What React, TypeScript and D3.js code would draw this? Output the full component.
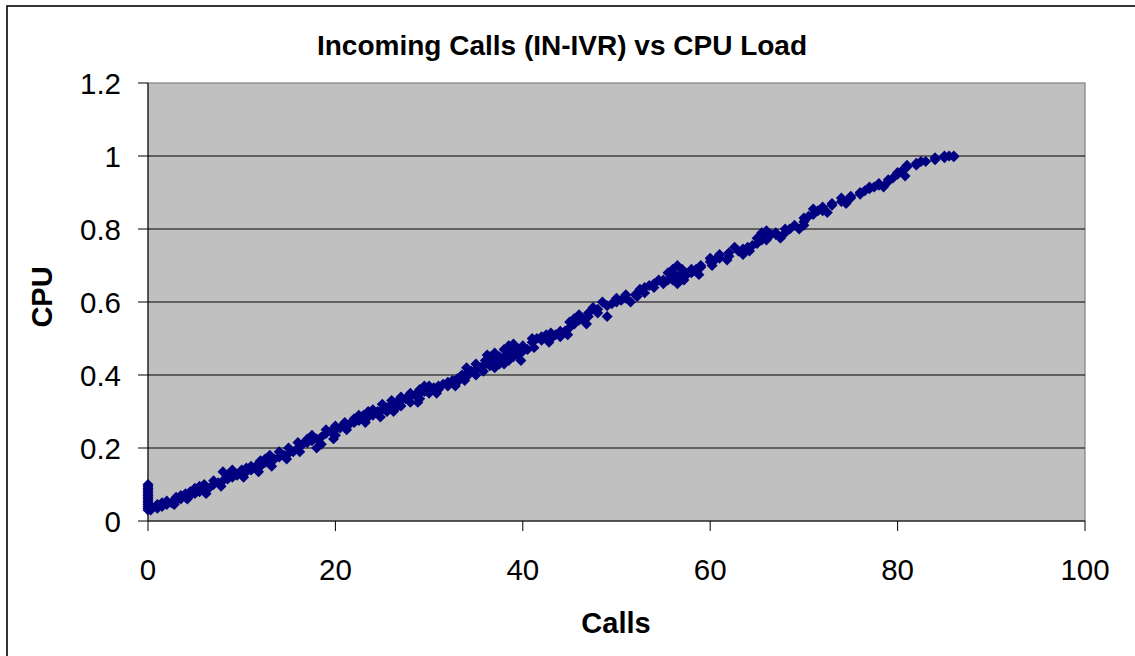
import React from "react";
import * as d3 from "d3";

const chartTitle = "Incoming Calls (IN-IVR) vs CPU Load";
const xAxisTitle = "Calls";
const yAxisTitle = "CPU";
const xTicks = [0, 20, 40, 60, 80, 100];
const yTicks = [0, 0.2, 0.4, 0.6, 0.8, 1, 1.2];

// [calls, cpu]
const scatterPoints: [number, number][] = [
  [0, 0.03], [0, 0.035], [0, 0.04], [0, 0.045], [0, 0.05], [0, 0.055], [0, 0.06], [0, 0.065],
  [0, 0.07], [0, 0.075], [0, 0.08], [0, 0.085], [0, 0.09], [0, 0.095], [0, 0.1],
  [0.3, 0.03], [0.3, 0.04], [1, 0.035], [1, 0.045], [1.5, 0.04], [1.5, 0.05],
  [2, 0.045], [2, 0.055], [2.5, 0.05], [3, 0.055], [3, 0.065], [3.5, 0.06], [3.5, 0.07],
  [4, 0.065], [4, 0.075], [4.5, 0.07], [4.5, 0.08], [5, 0.075], [5, 0.09], [5.5, 0.08], [5.5, 0.095],
  [6, 0.085], [6, 0.1], [6.5, 0.09], [7, 0.1], [7, 0.11], [7.5, 0.105], [8, 0.11], [8, 0.135],
  [8.5, 0.115], [8.5, 0.125], [9, 0.12], [9, 0.13], [9, 0.14], [9.5, 0.125], [10, 0.13], [10, 0.14],
  [10.5, 0.135], [10.5, 0.145], [11, 0.14], [11, 0.15], [11.5, 0.15], [12, 0.15], [12, 0.165],
  [12.5, 0.16], [12.5, 0.17], [13, 0.165], [13, 0.18], [13.5, 0.17], [14, 0.175], [14, 0.19],
  [14.5, 0.18], [15, 0.185], [15, 0.2], [15.5, 0.19], [16, 0.2], [16, 0.215], [16.5, 0.21],
  [17, 0.215], [17, 0.225], [17.5, 0.22], [17.5, 0.235], [18, 0.225], [18, 0.2], [18.5, 0.23], [18.5, 0.21],
  [19, 0.24], [19, 0.25], [19.5, 0.245], [20, 0.25], [20, 0.26], [20, 0.235], [20.5, 0.255],
  [21, 0.26], [21, 0.27], [21.5, 0.265], [22, 0.27], [22, 0.28], [22.5, 0.275], [22.5, 0.29],
  [23, 0.28], [23, 0.29], [23.5, 0.3], [23.5, 0.285], [24, 0.29], [24, 0.305], [24.5, 0.3],
  [25, 0.305], [25, 0.32], [25.5, 0.31], [25.5, 0.3], [26, 0.32], [26, 0.33], [26.5, 0.325], [26.5, 0.31],
  [27, 0.33], [27, 0.34], [27, 0.315], [27.5, 0.335], [28, 0.34], [28, 0.35], [28, 0.325], [28.5, 0.345],
  [29, 0.35], [29, 0.36], [29, 0.335], [29.5, 0.355], [29.5, 0.37], [30, 0.36], [30, 0.37], [30, 0.35],
  [30.5, 0.365], [31, 0.37], [31, 0.36], [31.5, 0.375], [32, 0.38], [32, 0.37], [32.5, 0.385],
  [33, 0.39], [33, 0.38], [33.5, 0.4], [34, 0.405], [34, 0.395], [34, 0.42], [34.5, 0.41],
  [35, 0.415], [35, 0.43], [35, 0.4], [35.5, 0.42], [36, 0.43], [36, 0.44], [36.5, 0.425], [36.5, 0.45],
  [37, 0.44], [37, 0.46], [37, 0.42], [37.5, 0.45], [37.5, 0.43], [38, 0.45], [38, 0.47], [38, 0.43], [38, 0.44],
  [38.5, 0.46], [38.5, 0.48], [38.5, 0.44], [39, 0.46], [39, 0.47], [39, 0.45], [39, 0.485],
  [39.5, 0.47], [39.5, 0.455], [40, 0.465], [40, 0.48], [40.5, 0.47], [41, 0.49], [41, 0.5], [41.5, 0.5],
  [42, 0.505], [42, 0.495], [42.5, 0.51], [43, 0.5], [43, 0.515], [43.5, 0.51], [44, 0.52], [44, 0.505],
  [44.5, 0.52], [45, 0.53], [45, 0.545], [45.5, 0.54], [45.5, 0.555], [46, 0.55], [46, 0.565], [46.5, 0.55],
  [47, 0.56], [47, 0.57], [48, 0.57], [48, 0.58], [48.5, 0.6], [49, 0.59], [49, 0.56], [49.5, 0.595],
  [50, 0.6], [50, 0.61], [50.5, 0.605], [51, 0.61], [51, 0.62], [52, 0.62], [52.5, 0.635],
  [53, 0.64], [53, 0.625], [53.5, 0.645], [54, 0.64], [54, 0.65], [55, 0.65], [55, 0.66],
  [55.5, 0.66], [55.5, 0.68], [56, 0.66], [56, 0.67], [56, 0.68], [56, 0.69], [56.5, 0.67], [56.5, 0.7], [56.5, 0.65],
  [57, 0.68], [57, 0.69], [57.5, 0.675], [58, 0.68], [58, 0.69], [58.5, 0.69], [59, 0.695], [59, 0.7],
  [60, 0.71], [60, 0.72], [60.5, 0.715], [61, 0.72], [61, 0.73], [62, 0.735], [62, 0.725], [63, 0.74],
  [63.5, 0.73], [63.5, 0.745], [64, 0.75], [64.5, 0.755], [65, 0.76], [65, 0.775], [65.5, 0.77], [65.5, 0.78],
  [65.5, 0.79], [66, 0.78], [66, 0.795], [66, 0.77], [66.5, 0.785], [67, 0.785], [67, 0.79], [68, 0.79], [68, 0.8],
  [68.5, 0.8], [69, 0.81], [70, 0.82], [70, 0.83], [70, 0.81], [70.5, 0.835], [71, 0.84], [71, 0.855],
  [71.5, 0.85], [72, 0.86], [72, 0.85], [73, 0.865], [73, 0.87], [74, 0.875], [74, 0.885], [75, 0.885], [75, 0.89],
  [76, 0.895], [76, 0.9], [76.5, 0.905], [77, 0.91], [77, 0.915], [77.5, 0.915], [78, 0.92], [78, 0.925],
  [79, 0.93], [79, 0.935], [79.5, 0.94], [80, 0.95], [80, 0.955], [80.5, 0.96], [81, 0.97], [81, 0.975],
  [82, 0.98], [82, 0.975], [82.5, 0.985], [83, 0.985], [84, 0.99], [84, 0.995], [85, 0.995], [85, 1.0],
  [85.5, 1.0], [86, 1.0], [86, 0.998],
  // extra spread
  [2.8, 0.045], [4.2, 0.06], [6.2, 0.075], [7.8, 0.095], [10.2, 0.12], [11.8, 0.135], [13.2, 0.15],
  [14.8, 0.17], [16.2, 0.19], [19.8, 0.225], [21.2, 0.25], [23.2, 0.27], [24.8, 0.285], [26.2, 0.3],
  [28.8, 0.325], [30.8, 0.35], [32.8, 0.37], [33.8, 0.385], [35.8, 0.41], [36.2, 0.455], [39.8, 0.44],
  [41.2, 0.475], [42.8, 0.49], [44.8, 0.51], [46.8, 0.54], [47.5, 0.585], [51.5, 0.6], [52.2, 0.615],
  [54.5, 0.66], [57.2, 0.66], [58.8, 0.675], [60.2, 0.7], [61.8, 0.715], [62.6, 0.75], [64.2, 0.74],
  [67.5, 0.775], [69.5, 0.8], [72.5, 0.845], [74.5, 0.87], [78.5, 0.915], [80.8, 0.945],
];

const W = 1135;
const H = 656;
const plot = { left: 148, right: 1085, top: 83, bottom: 521 };
const font = "'Liberation Sans', Arial, sans-serif";

export default function App() {
  const x = d3.scaleLinear().domain([0, 100]).range([plot.left, plot.right]);
  const y = d3.scaleLinear().domain([0, 1.2]).range([plot.bottom, plot.top]);
  const marker = d3.symbol().type(d3.symbolSquare).size(60)() as string;

  return (
    <svg
      width={W}
      height={H}
      style={{ position: "absolute", left: 0, top: 0, background: "#fff" }}
      fontFamily={font}
    >
      <rect x={7} y={6} width={W + 20} height={H + 20} fill="#fff" stroke="#000" strokeWidth={1.6} />
      <rect
        x={plot.left}
        y={plot.top}
        width={plot.right - plot.left}
        height={plot.bottom - plot.top}
        fill="#c0c0c0"
        stroke="#808080"
        strokeWidth={1.2}
      />
      {yTicks.filter((t) => t > 0 && t < 1.2).map((t) => (
        <line key={"g" + t} x1={plot.left} x2={plot.right} y1={y(t)} y2={y(t)} stroke="#000" strokeWidth={1} />
      ))}
      <line x1={plot.left} x2={plot.left} y1={plot.top} y2={plot.bottom} stroke="#000" strokeWidth={1} />
      <line x1={plot.left} x2={plot.right} y1={plot.bottom} y2={plot.bottom} stroke="#000" strokeWidth={1} />
      {yTicks.map((t) => (
        <g key={"y" + t}>
          <line x1={plot.left - 10} x2={plot.left} y1={y(t)} y2={y(t)} stroke="#000" strokeWidth={1} />
          <text x={121} y={y(t) + 10.5} textAnchor="end" fontSize={29.5} fill="#000">
            {d3.format("~g")(t)}
          </text>
        </g>
      ))}
      {xTicks.map((t) => (
        <g key={"x" + t}>
          <line x1={x(t)} x2={x(t)} y1={plot.bottom} y2={plot.bottom + 10} stroke="#000" strokeWidth={1} />
          <text x={x(t)} y={580} textAnchor="middle" fontSize={29.5} fill="#000">
            {t}
          </text>
        </g>
      ))}
      {scatterPoints.map(([cx, cy], i) => (
        <path
          key={i}
          d={marker}
          transform={`translate(${x(cx)},${y(cy)}) rotate(45)`}
          fill="#000080"
        />
      ))}
      <text x={562} y={55} textAnchor="middle" fontSize={28} fontWeight="bold" fill="#000">
        {chartTitle}
      </text>
      <text x={616} y={633} textAnchor="middle" fontSize={29} fontWeight="bold" fill="#000">
        {xAxisTitle}
      </text>
      <text
        transform={`translate(52,297) rotate(-90)`}
        textAnchor="middle"
        fontSize={29}
        fontWeight="bold"
        fill="#000"
      >
        {yAxisTitle}
      </text>
    </svg>
  );
}
